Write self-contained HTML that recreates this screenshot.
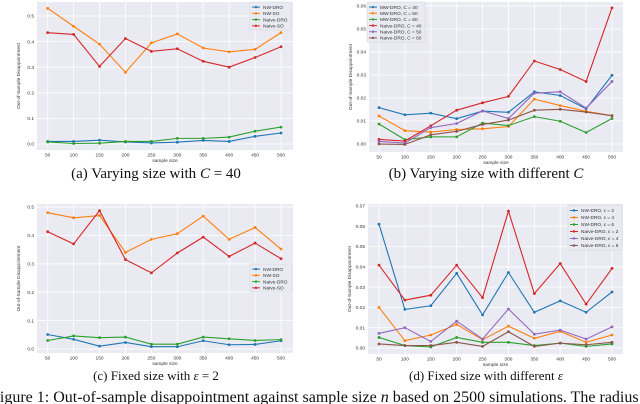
<!DOCTYPE html>
<html><head><meta charset="utf-8"><style>
html,body{margin:0;padding:0;background:#fff;width:640px;height:404px;overflow:hidden}
svg{display:block}
.cap{font-family:"Liberation Serif",serif;font-size:13px;fill:#111}
.tk{font-family:"Liberation Sans",sans-serif;font-size:4.8px;fill:#333}
</style></head><body>
<svg id="fig" width="640" height="404" viewBox="0 0 640 404" xmlns="http://www.w3.org/2000/svg">
<text class="cap" x="156" y="178" text-anchor="middle" style="font-size:15px">(a) Varying size with <tspan font-style="italic">C</tspan> = 40</text>
<text class="cap" x="486" y="178" text-anchor="middle" style="font-size:15px">(b) Varying size with different <tspan font-style="italic">C</tspan></text>
<text class="cap" x="156" y="380" text-anchor="middle">(c) Fixed size with <tspan font-style="italic">ε</tspan> = 2</text>
<text class="cap" x="486" y="380" text-anchor="middle">(d) Fixed size with different <tspan font-style="italic">ε</tspan></text>
<text class="cap" x="-9" y="402" style="font-size:16px">Figure 1: Out-of-sample disappointment against sample size <tspan font-style="italic">n</tspan> based on 2500 simulations. The radius</text>
</svg>
<script>
const sizes=[50,100,150,200,250,300,350,400,450,500];
const colors=["#1f77b4","#ff7f0e","#2ca02c","#d62728","#9467bd","#8c564b"];
const namesA=["NW-DRO","NW-SO","Naive-DRO","Naive-SO"];
const a1=[.01,.01,.015,.008,.004,.007,.014,.01,.03,.043];
const a2=[.53,.46,.39,.28,.395,.43,.375,.36,.37,.435];
const a3=[.008,.002,.003,.01,.01,.022,.022,.027,.05,.066];
const a4=[.435,.428,.303,.412,.362,.372,.323,.30,.338,.38];
const ticksA=[0,0.1,0.2,0.3,0.4,0.5];
const namesB=["MW-DRO, C = 40","MW-DRO, C = 50","MW-DRO, C = 60","Naive-DRO, C = 40","Naive-DRO, C = 50","Naive-DRO, C = 60"];
const b1=[.0158,.0127,.0134,.011,.0143,.0138,.0227,.0211,.0153,.0299];
const b2=[.0122,.0058,.0052,.0063,.0066,.0076,.0195,.0167,.0142,.0123];
const b3=[.0087,.0019,.0031,.0031,.0091,.008,.0119,.0099,.005,.0111];
const b4=[.002,.0013,.0079,.0147,.0179,.0207,.0361,.0324,.0272,.0592];
const b5=[.0011,.0004,.0071,.0089,.0144,.0111,.0221,.0227,.0156,.0272];
const b6=[0,-.0002,.004,.0055,.0085,.0104,.0147,.0151,.0139,.0123];
const ticksB=[0,0.01,0.02,0.03,0.04,0.05,0.06];
const c1=[.051,.034,.01,.023,.008,.008,.029,.015,.016,.029];
const c2=[.48,.462,.47,.34,.386,.406,.468,.386,.428,.352];
const c3=[.03,.046,.04,.042,.017,.017,.042,.036,.03,.033];
const c4=[.413,.37,.487,.315,.268,.338,.394,.326,.373,.318];
const namesD=["NW-DRO, ε = 2","NW-DRO, ε = 4","NW-DRO, ε = 6","Naive-DRO, ε = 2","Naive-DRO, ε = 4","Naive-DRO, ε = 6"];
const d1=[.061,.019,.0208,.0368,.0163,.0372,.0176,.0232,.0176,.0276];
const d2=[.020,.0036,.0064,.0116,.0041,.0108,.0048,.0082,.0028,.0064];
const d3=[.0052,.0012,.0005,.0052,.0028,.0028,.0012,.0024,.0008,.002];
const d4=[.0408,.0236,.026,.0408,.0248,.0674,.0268,.0416,.0216,.0392];
const d5=[.0072,.01,.0032,.0132,.0044,.0192,.0068,.0088,.0044,.0104];
const d6=[.002,.0012,.0012,.0028,.0008,.008,.0008,.0024,.0016,.0028];
const ticksD=[0,0.01,0.02,0.03,0.04,0.05,0.06,0.07];

const NS="http://www.w3.org/2000/svg";
const fig=document.getElementById('fig');
function mk(tag,attrs,parent){const e=document.createElementNS(NS,tag);for(const k in attrs)e.setAttribute(k,attrs[k]);(parent||fig).appendChild(e);return e;}

function chart(id,box,x0px,x1px,y0px,yPer,ticks,dec,series,names,leg){
  const g=mk('g',{});
  
  
  const bg=mk('rect',{x:box[0],y:box[1],width:box[2]-box[0],height:box[3]-box[1],fill:"#eaeaf2"},g);
  
  
  const xs=v=>x0px+(v-sizes[0])/(sizes[sizes.length-1]-sizes[0])*(x1px-x0px);
  const ys=v=>y0px-v*yPer;
  ticks.forEach(t=>{
    const y=ys(t);
    mk('line',{x1:box[0],x2:box[2],y1:y,y2:y,stroke:"#fff","stroke-width":0.8},g);
    const tl=mk('text',{x:box[0]-3,y:y+1.7,"text-anchor":"end",class:"tk"},g);
    tl.textContent=t.toFixed(dec);
    
    
  });
  sizes.forEach(s=>{
    const x=xs(s);
    mk('line',{x1:x,x2:x,y1:box[1],y2:box[3],stroke:"#fff","stroke-width":0.8},g);
    const tl=mk('text',{x:x,y:box[3]+6.5,"text-anchor":"middle",class:"tk"},g);
    tl.textContent=s;
    
    
  });
  const xl=mk('text',{x:(box[0]+box[2])/2,y:box[3]+12,"text-anchor":"middle",class:"tk"},g);
  xl.textContent="sample size";
  
  
  const yx=box[0]-17, yy=(box[1]+box[3])/2;
  const yl=mk('text',{x:yx,y:yy,"text-anchor":"middle",class:"tk",transform:`rotate(-90 ${yx} ${yy})`},g);
  yl.textContent="Out-of-Sample Disappointment";
  
  
  series.forEach((arr,i)=>{
    const pts=arr.map((v,j)=>xs(sizes[j]).toFixed(2)+","+ys(v).toFixed(2)).join(" ");
    const pl=mk('polyline',{points:pts,fill:"none",stroke:colors[i],"stroke-width":1.1},g);
    
    
    arr.forEach((v,j)=>{
      const c=mk('circle',{cx:xs(sizes[j]),cy:ys(v),r:1.4,fill:colors[i]},g);
      
      
    });
  });
  const lg=mk('g',{},g);
  
  
  mk('rect',{x:leg[0],y:leg[1],width:leg[2],height:leg[3],fill:"#eaeaf2",stroke:"#d0d0d8","stroke-width":0.5,rx:1},lg);
  const step=(leg[3]-3)/names.length;
  names.forEach((n,i)=>{
    const y=leg[1]+2+step*(i+0.5);
    mk('line',{x1:leg[0]+2,x2:leg[0]+10,y1:y,y2:y,stroke:colors[i],"stroke-width":1},lg);
    mk('circle',{cx:leg[0]+6,cy:y,r:1.2,fill:colors[i]},lg);
    const t=mk('text',{x:leg[0]+13,y:y+1.7,class:"tk"},lg);
    t.textContent=n;
    
    
  });
}
chart('chart-a',[37,2,293,150],47.7,281,144,256,ticksA,1,[a1,a2,a3,a4],namesA,[250,2,41,28]);
chart('chart-b',[369,2,623,152],379,612,144,2300,ticksB,2,[b1,b2,b3,b4,b5,b6],namesB,[367,2,58,40]);
chart('chart-c',[37,204,293,353],47.7,281,349,284,ticksA,1,[c1,c2,c3,c4],namesA,[250,264,42,28]);
chart('chart-d',[368,204,623,354],379,612,348,2030,ticksD,2,[d1,d2,d3,d4,d5,d6],namesD,[568,205,54,45]);
</script>
</body></html>
